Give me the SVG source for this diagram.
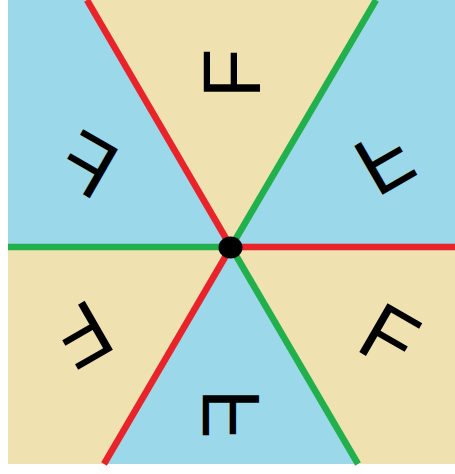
<svg xmlns="http://www.w3.org/2000/svg" width="455" height="474" viewBox="0 0 455 474">
<style>
.blue{fill:#9bd8e9}
.beige{fill:#efe1b0}
.red{stroke:#e8242a;stroke-width:6.5;fill:none}
.green{stroke:#22b04c;stroke-width:6.5;fill:none}
.f{font-family:"Liberation Sans",Arial,sans-serif;font-size:82px;fill:#000;text-anchor:middle}
</style>
<rect width="455" height="474" fill="#ffffff"/>
<g id="sectors">
<polygon class="beige" points="87,0 376,0 231,247"/>
<polygon class="blue" points="8,0 87,0 231,247 8,247"/>
<polygon class="blue" points="376,0 455,0 455,247 231,247"/>
<polygon class="beige" points="8,247 231,247 104,464 8,464"/>
<polygon class="beige" points="231,247 455,247 455,464 358,464"/>
<polygon class="blue" points="231,247 358,464 104,464"/>
</g>
<g id="connectors">
<line class="green" x1="8" y1="247" x2="231" y2="247"/>
<line class="red" x1="231" y1="247" x2="455" y2="247"/>
<line class="red" x1="87" y1="0" x2="231" y2="247"/>
<line class="red" x1="231" y1="247" x2="104" y2="464"/>
<line class="green" x1="376" y1="0" x2="231" y2="247"/>
<line class="green" x1="231" y1="247" x2="358" y2="464"/>
</g>
<g id="center"><ellipse cx="230.5" cy="247.5" rx="12" ry="11" fill="#000"/></g>
<g id="f-top" transform="translate(231,72) rotate(-90)"><text class="f" x="-1.5" y="29">F</text></g>
<g id="f-upper-left" transform="translate(87,163) rotate(30) scale(-1,1)"><text class="f" x="-1.5" y="29">F</text></g>
<g id="f-upper-right" transform="translate(386,161) rotate(150) scale(-1,1)"><text class="f" x="-1.5" y="29">F</text></g>
<g id="f-lower-left" transform="translate(82,336) rotate(150)"><text class="f" x="-1.5" y="29">F</text></g>
<g id="f-lower-right" transform="translate(391,337) rotate(30)"><text class="f" x="-1.5" y="29">F</text></g>
<g id="f-bottom" transform="translate(230,415) rotate(-90) scale(-1,1)"><text class="f" x="-1.5" y="29">F</text></g>
</svg>
